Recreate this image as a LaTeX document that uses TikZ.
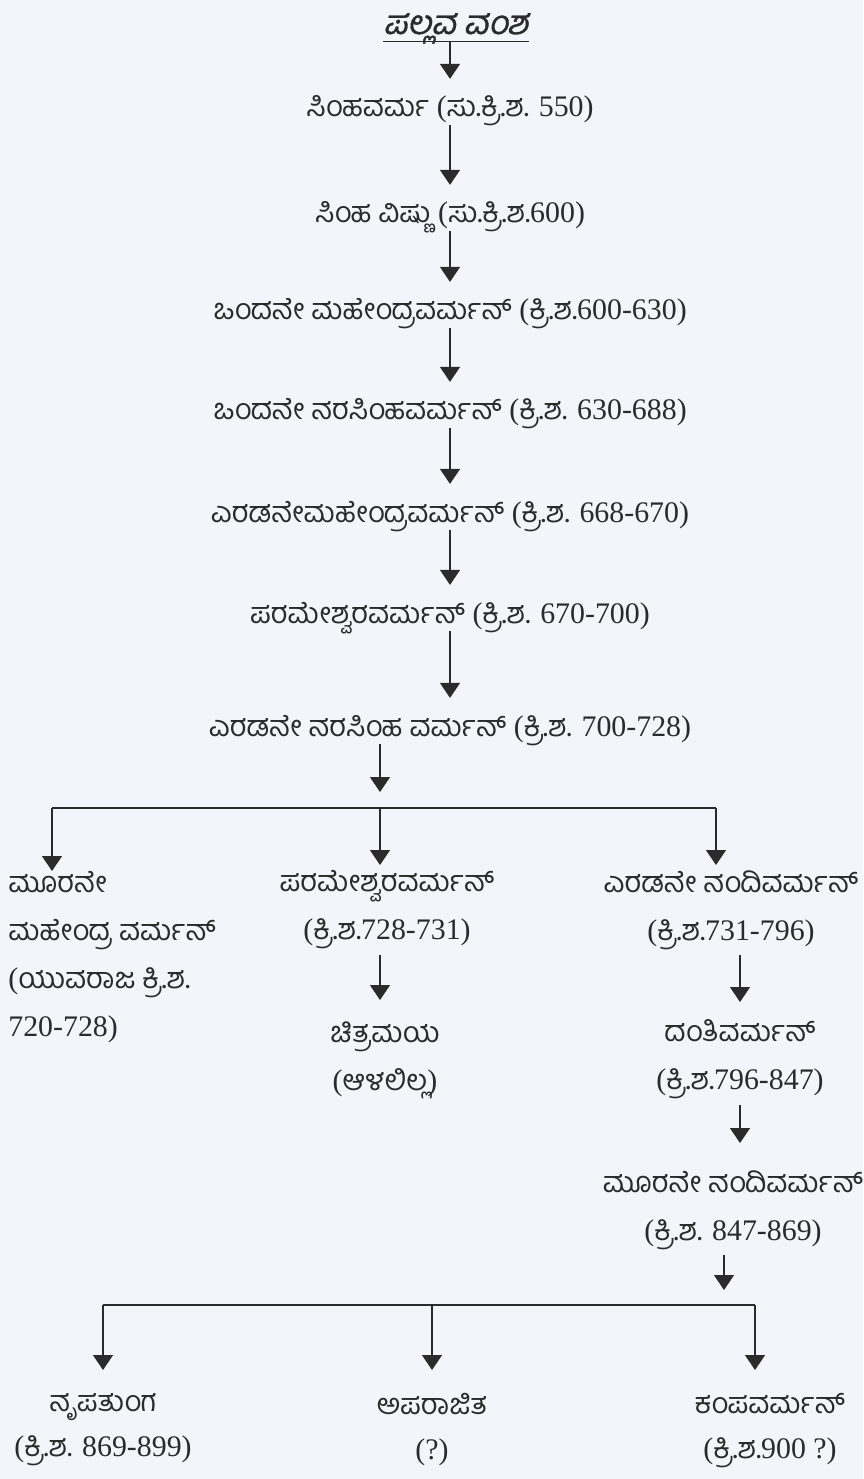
\documentclass[tikz,border=0pt]{standalone}
\usepackage{fontspec}
\setmainfont{Liberation Serif}
\newfontfamily\knfont[Script=Kannada,Scale=0.97]{Hind Mysuru}
\newfontfamily\kntitlefont[Script=Kannada,FakeSlant=0.2,FakeBold=1]{Hind Mysuru}
\newcommand{\kt}[1]{{\knfont #1}}
\usetikzlibrary{arrows.meta}
\definecolor{paper}{HTML}{F3F5FA}
\definecolor{ink}{HTML}{2B2B2B}

\begin{document}
\begin{tikzpicture}[x=0.02cm,y=-0.02cm,
  every node/.style={text=ink,font=\fontsize{17}{27.3}\selectfont},
  king/.style={anchor=base,inner xsep=0pt,inner ysep=3.5pt,text height=18pt,text depth=1pt},
  heir/.style={anchor=north,align=center,inner xsep=0pt,inner ysep=3pt},
  arr/.style={draw=ink,line width=0.8pt,-{Triangle[width=0.4cm,length=0.3cm]}},
  bar/.style={draw=ink,line width=0.8pt}]
\fill[paper] (0,0) rectangle (863,1479);
\useasboundingbox (0,0) rectangle (863,1479);

\node[anchor=base,inner sep=0pt,text depth=4pt,font=\fontsize{19}{22}\selectfont] (title) at (456,34) {\kntitlefont ಪಲ್ಲವ ವಂಶ};
\draw[bar] (title.south west) -- (title.south east);

\node[king] (simhavarma) at (450,117) {\kt{ಸಿಂಹವರ್ಮ} (\kt{ಸು.ಕ್ರಿ.ಶ.} 550)};
\node[king] (vishnu) at (450,223) {\kt{ಸಿಂಹ ವಿಷ್ಣು} (\kt{ಸು.ಕ್ರಿ.ಶ.}600)};
\node[king] (mahendra1) at (450,320) {\kt{ಒಂದನೇ ಮಹೇಂದ್ರವರ್ಮನ್} (\kt{ಕ್ರಿ.ಶ.}600-630)};
\node[king] (narasimha1) at (450,420) {\kt{ಒಂದನೇ ನರಸಿಂಹವರ್ಮನ್} (\kt{ಕ್ರಿ.ಶ.} 630-688)};
\node[king] (mahendra2) at (450,522) {\kt{ಎರಡನೇಮಹೇಂದ್ರವರ್ಮನ್} (\kt{ಕ್ರಿ.ಶ.} 668-670)};
\node[king] (parama1) at (450,623) {\kt{ಪರಮೇಶ್ವರವರ್ಮನ್} (\kt{ಕ್ರಿ.ಶ.} 670-700)};
\node[king] (narasimha2) at (450,736) {\kt{ಎರಡನೇ ನರಸಿಂಹ ವರ್ಮನ್} (\kt{ಕ್ರಿ.ಶ.} 700-728)};

\draw[arr] (simhavarma.north |- title.south) -- (simhavarma.north);
\draw[arr] (simhavarma) -- (vishnu);
\draw[arr] (vishnu) -- (mahendra1);
\draw[arr] (mahendra1) -- (narasimha1);
\draw[arr] (narasimha1) -- (mahendra2);
\draw[arr] (mahendra2) -- (parama1);
\draw[arr] (parama1) -- (narasimha2);

% first split
\coordinate (j1l) at (52,808);
\coordinate (j1) at (380,808);
\coordinate (j1r) at (716,808);
\draw[arr,shorten >=0.32cm] (j1 |- narasimha2.south) -- (j1);
\draw[bar] (j1l) -- (j1r);

\node[anchor=north west,align=left,inner sep=0pt] (mahendra3) at (8,871)
  {\kt{ಮೂರನೇ}\\\kt{ಮಹೇಂದ್ರ ವರ್ಮನ್}\\(\kt{ಯುವರಾಜ ಕ್ರಿ.ಶ.}\\720-728)};
\node[heir] (parama2) at (387,865) {\kt{ಪರಮೇಶ್ವರವರ್ಮನ್}\\(\kt{ಕ್ರಿ.ಶ.}728-731)};
\node[heir] (chitra) at (385,1016) {\kt{ಚಿತ್ರಮಯ}\\(\kt{ಆಳಲಿಲ್ಲ})};
\node[heir] (nandi2) at (731,865) {\kt{ಎರಡನೇ ನಂದಿವರ್ಮನ್}\\(\kt{ಕ್ರಿ.ಶ.}731-796)};
\node[heir] (danti) at (740,1014) {\kt{ದಂತಿವರ್ಮನ್}\\(\kt{ಕ್ರಿ.ಶ.}796-847)};
\node[heir] (nandi3) at (733,1165) {\kt{ಮೂರನೇ ನಂದಿವರ್ಮನ್}\\(\kt{ಕ್ರಿ.ಶ.} 847-869)};

\draw[arr] (j1l) -- (j1l |- mahendra3.north);
\draw[arr] (j1) -- (j1 |- parama2.north);
\draw[arr] (j1r) -- (j1r |- nandi2.north);
\draw[arr,shorten >=0.32cm] (j1 |- parama2.south) -- (j1 |- chitra.north);
\draw[arr,shorten >=0.24cm] (danti.north |- nandi2.south) -- (danti.north);
\draw[arr,shorten >=0.44cm] (danti.south) -- (danti.south |- nandi3.north);

% second split
\coordinate (j2l) at (103,1305);
\coordinate (j2) at (724,1305);
\coordinate (j2m) at (432,1305);
\coordinate (j2r) at (755,1305);
\draw[arr,shorten >=0.3cm] (j2 |- nandi3.south) -- (j2);
\draw[bar] (j2l) -- (j2r);

\node[heir,font=\fontsize{17}{25.4}\selectfont] (nrupa) at (103,1388) {\kt{ನೃಪತುಂಗ}\\(\kt{ಕ್ರಿ.ಶ.} 869-899)};
\node[heir,font=\fontsize{17}{25.4}\selectfont] (apara) at (432,1388) {\kt{ಅಪರಾಜಿತ}\\(?)};
\node[heir,font=\fontsize{17}{25.4}\selectfont] (kampa) at (770,1388) {\kt{ಕಂಪವರ್ಮನ್}\\(\kt{ಕ್ರಿ.ಶ.}900 ?)};

\draw[arr,shorten >=0.36cm] (j2l) -- (nrupa.north);
\draw[arr,shorten >=0.36cm] (j2m) -- (apara.north);
\draw[arr,shorten >=0.36cm] (j2r) -- (j2r |- kampa.north);
\end{tikzpicture}
\end{document}
